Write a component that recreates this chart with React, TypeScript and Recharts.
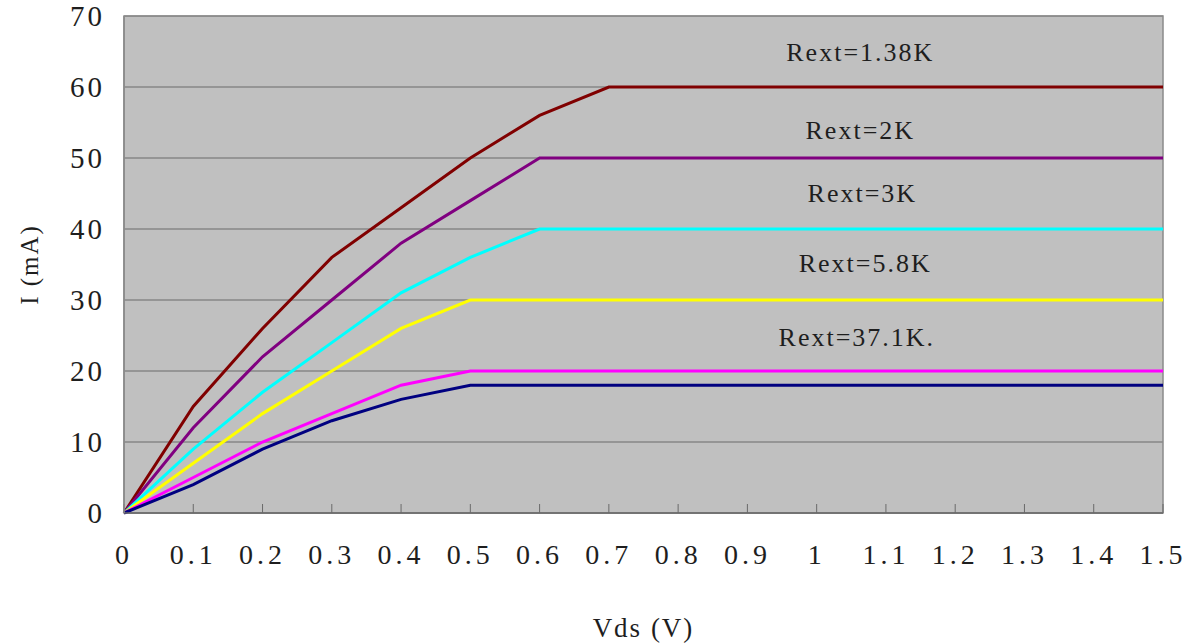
import React from "react";
import {
  CartesianGrid,
  Line,
  LineChart,
  ReferenceArea,
  ReferenceDot,
  XAxis,
  YAxis,
} from "recharts";

// Vds sample points (V)
const vds = [0, 0.1, 0.2, 0.3, 0.4, 0.5, 0.6, 0.7, 0.8, 0.9, 1, 1.1, 1.2, 1.3, 1.4, 1.5];

// drain current in mA, one array per Rext
const r138k = [0, 15, 26, 36, 43, 50, 56, 60, 60, 60, 60, 60, 60, 60, 60, 60];
const r2k = [0, 12, 22, 30, 38, 44, 50, 50, 50, 50, 50, 50, 50, 50, 50, 50];
const r3k = [0, 9, 17, 24, 31, 36, 40, 40, 40, 40, 40, 40, 40, 40, 40, 40];
const r58k = [0, 7, 14, 20, 26, 30, 30, 30, 30, 30, 30, 30, 30, 30, 30, 30];
const r371kUpper = [0, 5, 10, 14, 18, 20, 20, 20, 20, 20, 20, 20, 20, 20, 20, 20];
const r371kLower = [0, 4, 9, 13, 16, 18, 18, 18, 18, 18, 18, 18, 18, 18, 18, 18];

const xTicks = [0, 0.1, 0.2, 0.3, 0.4, 0.5, 0.6, 0.7, 0.8, 0.9, 1, 1.1, 1.2, 1.3, 1.4, 1.5];
const yTicks = [0, 10, 20, 30, 40, 50, 60, 70];

// curve labels, anchored in data units
const labelText = ["Rext=1.38K", "Rext=2K", "Rext=3K", "Rext=5.8K", "Rext=37.1K."];
const labelX = [1.063, 1.063, 1.066, 1.07, 1.058];
const labelY = [64.9, 54, 45.1, 35.3, 24.8];

const series = [
  { key: "a", values: r138k, color: "#800000" },
  { key: "b", values: r2k, color: "#800080" },
  { key: "c", values: r3k, color: "#00ffff" },
  { key: "d", values: r58k, color: "#ffff00" },
  { key: "e", values: r371kUpper, color: "#ff00ff" },
  { key: "f", values: r371kLower, color: "#000080" },
];

const data = vds.map((v, i) => {
  const row: Record<string, number> = { vds: v };
  series.forEach((s) => (row[s.key] = s.values[i]));
  return row;
});

const FONT = '"Liberation Serif", "DejaVu Serif", serif';
const INK = "#1e1e1e";

export default function App() {
  return (
    <div style={{ position: "absolute", left: 0, top: 0, width: 1194, height: 644, background: "#fff" }}>
      <LineChart
        width={1194}
        height={644}
        data={data}
        margin={{ top: 16, right: 31, bottom: 71, left: 0 }}
      >
        <CartesianGrid vertical={false} fill="#c0c0c0" stroke="#6a6a6a" strokeWidth={1.2} />
        <ReferenceArea x1={0} x2={1.5} y1={0} y2={70} fill="none" stroke="#8a8a8a" strokeWidth={1.5} />
        <XAxis
          dataKey="vds"
          type="number"
          domain={[0, 1.5]}
          ticks={xTicks}
          interval={0}
          height={60}
          tickSize={-9}
          tickMargin={40}
          tickFormatter={(v: number) => String(v)}
          axisLine={{ stroke: "#6a6a6a", strokeWidth: 1.5 }}
          tickLine={{ stroke: "#6a6a6a", strokeWidth: 1 }}
          tick={{ fill: INK, fontSize: 28, fontFamily: FONT, letterSpacing: 4 }}
          label={{
            content: ({ viewBox }: any) => (
              <text
                x={viewBox.x + viewBox.width / 2}
                y={637}
                textAnchor="middle"
                fill={INK}
                fontSize={27}
                fontFamily={FONT}
                letterSpacing={2}
              >
                Vds (V)
              </text>
            ),
          }}
        />
        <YAxis
          type="number"
          domain={[0, 70]}
          ticks={yTicks}
          interval={0}
          width={124}
          tickSize={0}
          tickMargin={19}
          axisLine={{ stroke: "#8a8a8a", strokeWidth: 1.5 }}
          tickLine={false}
          tick={{ fill: INK, fontSize: 29, fontFamily: FONT, letterSpacing: 3 }}
          label={{
            content: ({ viewBox }: any) => {
              const cy = viewBox.y + viewBox.height / 2;
              return (
                <text
                  x={38}
                  y={cy}
                  transform={`rotate(-90 38 ${cy})`}
                  textAnchor="middle"
                  fill={INK}
                  fontSize={25}
                  fontFamily={FONT}
                  letterSpacing={2}
                >
                  I (mA)
                </text>
              );
            },
          }}
        />
        {series.map((s) => (
          <Line
            key={s.key}
            dataKey={s.key}
            type="linear"
            stroke={s.color}
            strokeWidth={3}
            dot={false}
            activeDot={false}
            isAnimationActive={false}
          />
        ))}
        {labelText.map((t, i) => (
          <ReferenceDot
            key={t}
            x={labelX[i]}
            y={labelY[i]}
            r={0}
            fill="none"
            stroke="none"
            label={{
              value: t,
              position: "center",
              fill: INK,
              fontSize: 26,
              fontFamily: FONT,
              letterSpacing: 2,
            }}
          />
        ))}
      </LineChart>
    </div>
  );
}
